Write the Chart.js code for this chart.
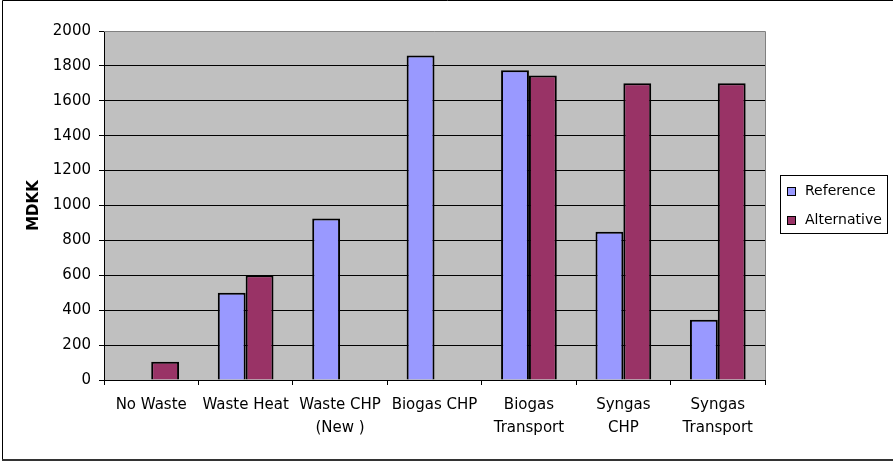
<!DOCTYPE html>
<html lang="en">
<head>
  <meta charset="UTF-8">
  <title>MDKK per scenario</title>
  <style>
    body {
      margin: 0;
      background-color: #ffffff;
    }
    canvas {
      display: block;
    }
  </style>
</head>
<body>
  <canvas id="barChart" width="893" height="461"></canvas>

  <script src="https://cdn.jsdelivr.net/npm/chart.js"></script>
  <script>
    // data
    const categories = [
      'No Waste',
      'Waste Heat',
      ['Waste CHP', '(New )'],
      'Biogas CHP',
      ['Biogas', 'Transport'],
      ['Syngas', 'CHP'],
      ['Syngas', 'Transport']
    ];
    const seriesNames = ['Reference', 'Alternative'];
    const referenceValues = [null, 500, 925, 1860, 1775, 850, 345];
    const alternativeValues = [105, 600, null, null, 1745, 1700, 1700];
    const yTicks = [0, 200, 400, 600, 800, 1000, 1200, 1400, 1600, 1800, 2000];

    const fontFamily = '"DejaVu Sans", Arial, sans-serif';

    // grey plot background, plot frame, outer frame and the boxed legend
    const excelLook = {
      id: 'excelLook',
      beforeDraw(chart) {
        const { ctx, chartArea: a } = chart;
        ctx.save();
        ctx.fillStyle = '#c0c0c0';
        ctx.fillRect(a.left, a.top, a.right - a.left, a.bottom - a.top);
        ctx.restore();
      },
      beforeDatasetsDraw(chart) {
        const { ctx, chartArea: a } = chart;
        ctx.save();
        ctx.strokeStyle = '#808080';
        ctx.lineWidth = 1;
        ctx.beginPath();
        ctx.moveTo(a.left, a.top + 0.5);
        ctx.lineTo(a.right + 0.5, a.top + 0.5);
        ctx.lineTo(a.right + 0.5, a.bottom);
        ctx.stroke();
        ctx.restore();
      },
      afterDraw(chart) {
        const { ctx } = chart;
        ctx.save();
        // outer frame
        ctx.strokeStyle = '#000000';
        ctx.lineWidth = 1;
        ctx.beginPath();
        ctx.moveTo(2.5, 461);
        ctx.lineTo(2.5, 0.5);
        ctx.lineTo(893, 0.5);
        ctx.stroke();
        ctx.strokeStyle = '#333333';
        ctx.lineWidth = 2;
        ctx.beginPath();
        ctx.moveTo(2, 460);
        ctx.lineTo(893, 460);
        ctx.stroke();

        // legend
        const box = { x: 780.5, y: 175.5, w: 107, h: 58 };
        ctx.fillStyle = '#ffffff';
        ctx.fillRect(box.x, box.y, box.w, box.h);
        ctx.strokeStyle = '#000000';
        ctx.lineWidth = 1;
        ctx.strokeRect(box.x, box.y, box.w, box.h);
        ctx.font = '14px ' + fontFamily;
        ctx.textBaseline = 'middle';
        chart.data.datasets.forEach((ds, i) => {
          const cy = 191 + i * 29;
          ctx.fillStyle = ds.backgroundColor;
          ctx.fillRect(787, cy - 4, 9, 9);
          ctx.strokeStyle = '#000000';
          ctx.strokeRect(787.5, cy - 3.5, 8, 8);
          ctx.fillStyle = '#000000';
          ctx.fillText(ds.label, 805, cy);
        });
        ctx.restore();
      }
    };

    new Chart(document.getElementById('barChart'), {
      type: 'bar',
      data: {
        labels: categories,
        datasets: [
          {
            label: seriesNames[0],
            data: referenceValues,
            backgroundColor: '#9999ff',
            borderColor: '#000000',
            borderWidth: 2
          },
          {
            label: seriesNames[1],
            data: alternativeValues,
            backgroundColor: '#993366',
            borderColor: '#000000',
            borderWidth: 2
          }
        ]
      },
      options: {
        responsive: false,
        animation: false,
        layout: {
          padding: { left: 0, top: 31, right: 128, bottom: 0 }
        },
        datasets: {
          bar: {
            categoryPercentage: 0.59,
            barPercentage: 1
          }
        },
        plugins: {
          legend: { display: false },
          tooltip: { enabled: false }
        },
        scales: {
          x: {
            afterFit: (scale) => { scale.height = 81; },
            grid: {
              offset: true,
              drawOnChartArea: false,
              drawTicks: true,
              tickLength: 5,
              tickColor: '#000000',
              lineWidth: 1
            },
            border: { display: true, color: '#000000', width: 1 },
            ticks: {
              color: '#000000',
              padding: 9,
              maxRotation: 0,
              autoSkip: false,
              font: { family: fontFamily, size: 15, lineHeight: 1.5 }
            }
          },
          y: {
            min: 0,
            max: 2000,
            afterFit: (scale) => { scale.width = 104; },
            afterBuildTicks: (scale) => {
              scale.ticks = yTicks.map(v => ({ value: v }));
            },
            grid: {
              color: (c) => (c.tick && c.tick.value === 2000) ? 'rgba(0,0,0,0)' : '#000000',
              tickColor: '#000000',
              tickLength: 5,
              lineWidth: 1
            },
            border: { display: true, color: '#000000', width: 1 },
            ticks: {
              color: '#000000',
              padding: 8,
              callback: (v) => String(v),
              font: { family: fontFamily, size: 15 }
            },
            title: {
              display: true,
              text: 'MDKK',
              color: '#000000',
              padding: { top: 25, bottom: 0 },
              font: { family: fontFamily, size: 15, weight: 'bold' }
            }
          }
        }
      },
      plugins: [excelLook]
    });
  </script>
</body>
</html>
